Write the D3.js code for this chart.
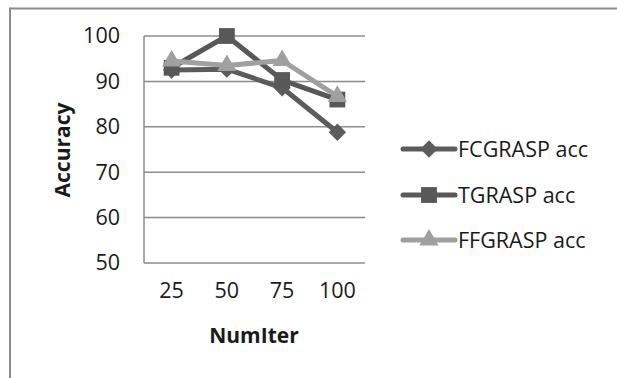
<!DOCTYPE html>
<html><head><meta charset="utf-8">
<script src="https://cdn.jsdelivr.net/npm/d3@7"></script>
<style>body{margin:0;background:#fff}svg{display:block}</style>
</head><body>
<script>
const categories = ["25","50","75","100"];
const yTicks = [50,60,70,80,90,100];
const seriesNames = ["FCGRASP acc","TGRASP acc","FFGRASP acc"];
const fcgrasp = [92.5, 92.7, 88.6, 78.8];
const tgrasp = [93.0, 100.0, 90.3, 86.0];
const ffgrasp = [94.5, 93.5, 94.6, 86.7];
const xTitle = "NumIter";
const yTitle = "Accuracy";

const W = 617, H = 378;
const svg = d3.select("body").append("svg").attr("width", W).attr("height", H);
const font = "'Open Sans', sans-serif";

// outer frame (top and left only visible)
svg.append("path").attr("d", `M10,${H} L10,8.5 L${W},8.5`).attr("fill","none")
  .attr("stroke","#8c8c8c").attr("stroke-width",2);

const x = d3.scaleBand().domain(categories).range([144,365]);
const y = d3.scaleLinear().domain([50,100]).range([263,36]);

// gridlines
svg.append("g").selectAll("line").data(yTicks).join("line")
  .attr("x1",144).attr("x2",365).attr("y1",d=>y(d)).attr("y2",d=>y(d))
  .attr("stroke","#8c8c8c").attr("stroke-width",1.5);
svg.append("line").attr("x1",144).attr("x2",144).attr("y1",y(100)).attr("y2",y(50))
  .attr("stroke","#8c8c8c").attr("stroke-width",1.5);

// y axis labels
const ya = svg.append("g").attr("transform","translate(144,0)")
  .call(d3.axisLeft(y).tickValues(yTicks).tickSize(0).tickPadding(24));
ya.select(".domain").remove();
ya.selectAll("text").attr("font-family",font).attr("font-size",21.5).attr("fill","#1a1a1a");

// x axis labels
const xa = svg.append("g").attr("transform",`translate(0,${y(50)})`)
  .call(d3.axisBottom(x).tickSize(0).tickPadding(20));
xa.select(".domain").remove();
xa.selectAll("text").attr("font-family",font).attr("font-size",21.5).attr("fill","#1a1a1a");

svg.append("text").attr("x",254).attr("y",343).attr("text-anchor","middle")
  .attr("font-family",font).attr("font-weight","bold").attr("font-size",21).attr("fill","#1a1a1a").text(xTitle);
svg.append("text").attr("transform","translate(70,150) rotate(-90)").attr("text-anchor","middle")
  .attr("font-family",font).attr("font-weight","bold").attr("font-size",21).attr("fill","#1a1a1a").text(yTitle);

const cx = c => x(c) + x.bandwidth()/2;
const series = [
  {name: seriesNames[0], values: fcgrasp, color:"#5c5c5c", shape: d3.symbolSquare, size: 150, rot: 45},
  {name: seriesNames[1], values: tgrasp, color:"#585858", shape: d3.symbolSquare, size: 250, rot: 0},
  {name: seriesNames[2], values: ffgrasp, color:"#a0a0a0", shape: d3.symbolTriangle, size: 160, rot: 0}
];
const line = d3.line().x((d,i)=>cx(categories[i])).y(d=>y(d));

series.forEach(s => {
  svg.append("path").attr("d", line(s.values)).attr("fill","none")
    .attr("stroke", s.color).attr("stroke-width",5).attr("stroke-linejoin","round");
  svg.append("g").selectAll("path").data(s.values).join("path")
    .attr("d", d3.symbol().type(s.shape).size(s.size))
    .attr("transform",(d,i)=>`translate(${cx(categories[i])},${y(d)}) rotate(${s.rot})`)
    .attr("fill", s.color);
});

// legend
const ly = [149,195,240];
series.forEach((s,i) => {
  const g = svg.append("g").attr("transform",`translate(0,${ly[i]})`);
  g.append("line").attr("x1",403).attr("x2",455).attr("y1",0).attr("y2",0)
    .attr("stroke",s.color).attr("stroke-width",5).attr("stroke-linecap","round");
  g.append("path").attr("d", d3.symbol().type(s.shape).size(s.size)).attr("transform",`translate(429,0) rotate(${s.rot})`).attr("fill",s.color);
  g.append("text").attr("x",458).attr("y",7.5).attr("font-family",font).attr("font-size",21.5)
    .attr("fill","#1a1a1a").text(s.name);
});
</script>
</body></html>
